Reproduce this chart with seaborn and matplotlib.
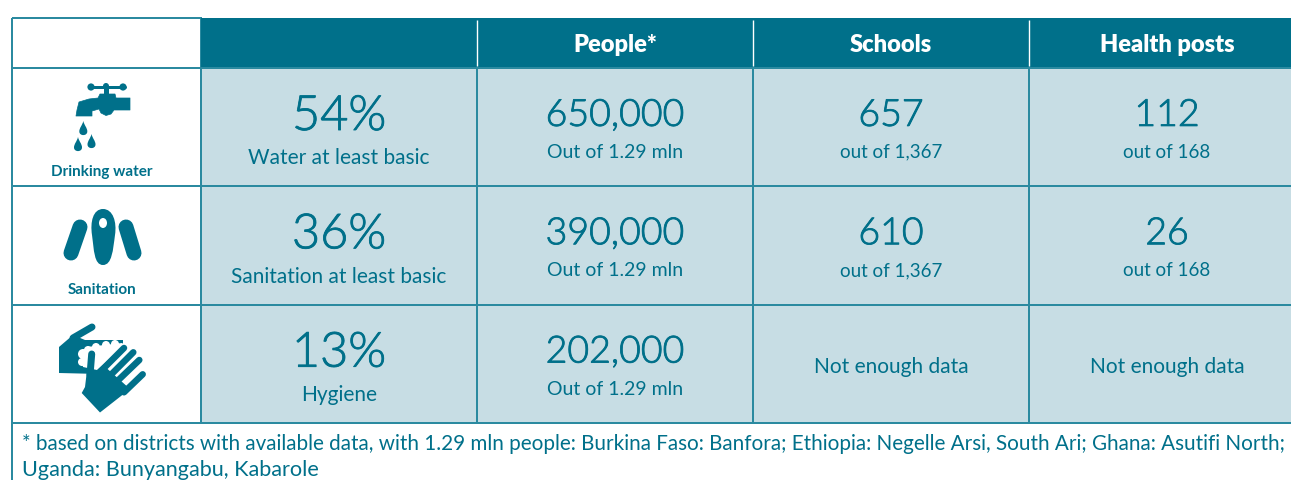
import numpy as np
import matplotlib
matplotlib.use('Agg')
import matplotlib.pyplot as plt
import matplotlib.patheffects as pe
import seaborn as sns
from matplotlib import font_manager as fm
from matplotlib.colors import ListedColormap
from matplotlib.path import Path
from matplotlib.patches import PathPatch, Circle, Ellipse, Polygon, Rectangle

# Table content
columns = ['', 'People*', 'Schools', 'Health posts']
services = ['Drinking water', 'Sanitation', '']
percent = ['54%', '36%', '13%']
percent_labels = ['Water at least basic', 'Sanitation at least basic', 'Hygiene']
people = ['650,000', '390,000', '202,000']
people_of = ['Out of 1.29 mln'] * 3
schools = ['657', '610', None]
schools_of = ['out of 1,367', 'out of 1,367', None]
posts = ['112', '26', None]
posts_of = ['out of 168', 'out of 168', None]
no_data = 'Not enough data'
footnote = ['* based on districts with available data, with 1.29 mln people: Burkina Faso: Banfora; '
            'Ethiopia: Negelle Arsi, South Ari; Ghana: Asutifi North;',
            'Uganda: Bunyangabu, Kabarole']

DARK = '#00708a'
LIGHT = '#c7dde4'
LINE = '#2b8aa0'
W, H = 1291, 480

sns.set_theme(style='white')
plt.rcParams['font.family'] = ['Lato', 'DejaVu Sans']

# Lato "light" by weight name resolves to Hairline, so pick the file directly
light_file = [f.fname for f in fm.fontManager.ttflist if f.fname.endswith('Lato-Light.ttf')][0]
thicken = [pe.withStroke(linewidth=0.6, foreground=DARK)]

fig = plt.figure(figsize=(W / 100, H / 100), dpi=100, facecolor='white')


def px_axes(x0, y0, x1, y1):
    # axes placed by pixel box, y measured from the top
    return fig.add_axes([x0 / W, 1 - y1 / H, (x1 - x0) / W, (y1 - y0) / H])


def cells(ax, nrows, ncols, color, line, lw=1.3):
    sns.heatmap(np.zeros((nrows, ncols)), ax=ax, cmap=ListedColormap([color]), cbar=False,
                linewidths=lw, linecolor=line, xticklabels=False, yticklabels=False,
                clip_on=False)


def big_text(ax, x, y, s, size):
    ax.text(x, y, s, ha='center', va='center', color=DARK, path_effects=thicken,
            fontproperties=fm.FontProperties(fname=light_file, size=size))


# Column edges: 12, 201, 477, 753, 1029, 1305 / row edges: 18, 68, 187, 305, 423
corner = px_axes(12, 18, 201, 68)
cells(corner, 1, 1, 'white', LINE)

head = px_axes(201, 18, 1305, 68)
cells(head, 1, len(columns), DARK, DARK, lw=0)
head.vlines([1, 2, 3], 0.03, 0.96, color='white', lw=1)
for j, c in enumerate(columns):
    head.text(j + 0.5, 0.55, c, ha='center', va='center', color='white', fontsize=17, fontweight='heavy')

left = px_axes(12, 68, 201, 423)
cells(left, len(services), 1, 'white', LINE)

body = px_axes(201, 68, 1305, 423)
cells(body, 3, 4, LIGHT, LINE)

mid = dict(ha='center', va='center', color=DARK)
for i in range(3):
    big_text(body, 0.5, i + 0.41, percent[i], 35)
    body.text(0.5, i + 0.762, percent_labels[i], fontsize=15, **mid)
    for j, (top, sub) in enumerate([(people, people_of), (schools, schools_of), (posts, posts_of)], start=1):
        if top[i] is None:
            body.text(j + 0.5, i + 0.528, no_data, fontsize=15, **mid)
        else:
            big_text(body, j + 0.5, i + 0.405, top[i], 27)
            body.text(j + 0.5, i + 0.713, sub[i], fontsize=14 if j == 1 else 13.5, **mid)

for i, s in enumerate(services):
    if s:
        left.text(0.475, i + 0.876, s, ha='center', va='center', color=DARK, fontsize=11, fontweight='bold')

# Footnote box, bottom runs off the canvas
foot = px_axes(12, 423, 1305, 500)
cells(foot, 1, 1, 'white', LINE)
foot.text(10 / 1293, 1 - 21 / 77, footnote[0], transform=foot.transAxes, ha='left', va='center',
          color=DARK, fontsize=14.9)
foot.text(10 / 1293, 1 - 47 / 77, footnote[1], transform=foot.transAxes, ha='left', va='center',
          color=DARK, fontsize=15.6)

# Icons drawn in a pixel overlay
ov = fig.add_axes([0, 0, 1, 1], facecolor='none', zorder=5)
ov.set_xlim(0, W)
ov.set_ylim(H, 0)
ov.axis('off')
PT = 0.72


def seg(p, q, w, color=DARK):
    ov.plot([p[0], q[0]], [p[1], q[1]], color=color, lw=w * PT, solid_capstyle='round')


def drop(x, y, h=15, r=4):
    verts = [(x, y), (x + 1, y + h * 0.3), (x + r, y + h * 0.45), (x + r, y + h * 0.7),
             (x + r, y + h * 1.02), (x - r, y + h * 1.02), (x - r, y + h * 0.7),
             (x - r, y + h * 0.45), (x - 1, y + h * 0.3), (x, y), (x, y)]
    codes = [Path.MOVETO] + [Path.CURVE4] * 9 + [Path.CLOSEPOLY]
    ov.add_patch(PathPatch(Path(verts, codes), fc=DARK, ec='none'))


# tap
seg((89, 87), (125, 87), 3)
ov.add_patch(Circle((91, 87), 3.6, fc=DARK, ec='none'))
ov.add_patch(Circle((123, 87), 3.6, fc=DARK, ec='none'))
ov.add_patch(Circle((106, 86), 3, fc=DARK, ec='none'))
ov.add_patch(Rectangle((103.5, 87), 5, 8, fc=DARK, ec='none'))
tap = [(130, 98), (116, 98), (115, 94), (100, 94), (98, 98), (89, 99), (79, 102), (77, 110), (76, 116),
       (92, 116), (92, 111), (99, 109), (101, 113), (106, 115.5), (111, 114), (114, 110), (130, 110)]
ov.add_patch(Polygon(tap, closed=True, fc=DARK, ec=DARK, lw=0.5, joinstyle='round'))
drop(83.3, 121)
drop(78, 137)
drop(91.5, 134)

# latrine slab
verts = [(103, 209), (93, 209), (90, 222), (92, 235), (94, 250), (94, 265), (103, 265), (112, 265),
         (113, 250), (115, 235), (117, 222), (113, 209), (103, 209), (103, 209)]
codes = [Path.MOVETO] + [Path.CURVE4] * 12 + [Path.CLOSEPOLY]
ov.add_patch(PathPatch(Path(verts, codes), fc=DARK, ec='none'))
ov.add_patch(Ellipse((103, 223), 8, 10, fc='white', ec='none'))
seg((80, 227), (71, 253), 15)
seg((126, 227), (134, 253), 15)

# hands
back = [(59, 347), (73, 335), (85, 340), (123, 340), (123, 352), (100, 374), (59, 373)]
ov.add_patch(Polygon(back, closed=True, fc=DARK, ec='none'))
seg((73, 338), (92, 327), 7)
ov.add_patch(Polygon([(80, 353), (87, 347), (122, 343), (125, 345), (97, 370), (83, 367)],
                     closed=True, fc='white', ec='none'))
for c, r in [((83, 354), 5), ((88, 350), 4), ((82, 362), 4), ((96, 347), 4), ((106, 345), 4),
             ((115, 344), 4)]:
    ov.add_patch(Circle(c, r, fc='white', ec='none'))
palm = [(86.7, 373), (85, 387), (81.7, 393), (100, 412.5), (130, 389), (105, 366.7), (95, 373)]
ov.add_patch(Polygon(palm, closed=True, fc=DARK, ec='none'))
seg((91.7, 354), (90, 375), 7)
seg((124, 348), (100, 372), 6.5)
seg((133.3, 352.3), (110, 375.7), 6.5)
seg((139.3, 360), (116.7, 381.7), 6.5)
seg((142.7, 374.3), (124, 392.3), 6.5)

fig.savefig('out.png', dpi=100)
